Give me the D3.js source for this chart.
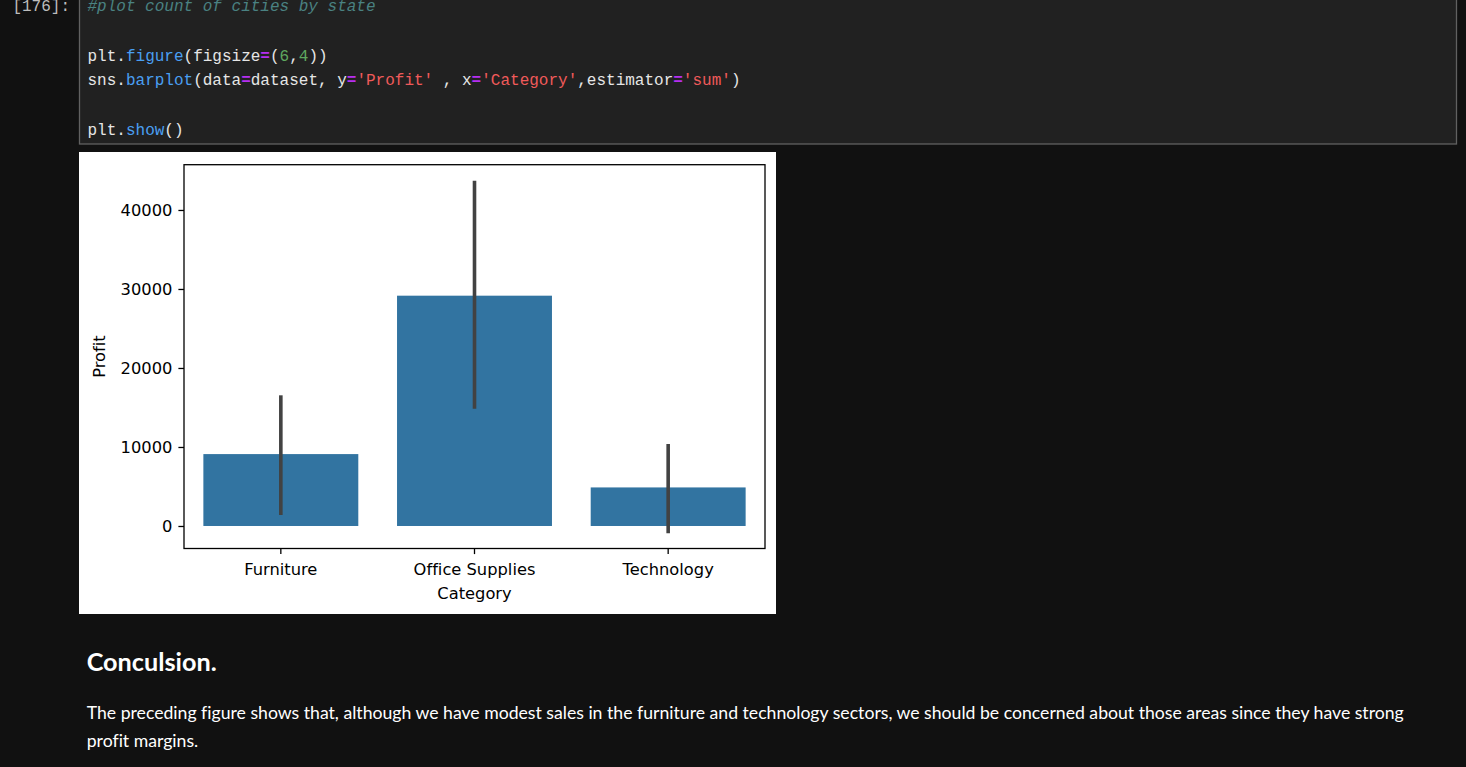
<!DOCTYPE html>
<html>
<head>
<meta charset="utf-8">
<script src="https://cdn.jsdelivr.net/npm/d3@7"></script>
<style>
  html, body { margin: 0; padding: 0; background: #111111; overflow: hidden; }
  svg { display: block; }
  text { font-variant-ligatures: none; }
</style>
</head>
<body>
<svg id="page" width="1466" height="767"></svg>
<script>
// ---------- data ----------
const categories = ["Furniture", "Office Supplies", "Technology"];
const profitSum  = [9100, 29150, 4880];
const ciLow      = [1390, 14850, -920];
const ciHigh     = [16540, 43700, 10380];
const yTicks     = [0, 10000, 20000, 30000, 40000];
const xLabel = "Category";
const yLabel = "Profit";

const promptText = "[176]:";
const codeLines = [
  [["#plot count of cities by state", "comment"]],
  [],
  [["plt", "plain"], [".", "plain"], ["figure", "func"], ["(", "plain"], ["figsize", "plain"], ["=", "op"], ["(", "plain"], ["6", "num"], [",", "plain"], ["4", "num"], ["))", "plain"]],
  [["sns", "plain"], [".", "plain"], ["barplot", "func"], ["(", "plain"], ["data", "plain"], ["=", "op"], ["dataset, y", "plain"], ["=", "op"], ["'Profit'", "str"], [" , x", "plain"], ["=", "op"], ["'Category'", "str"], [",estimator", "plain"], ["=", "op"], ["'sum'", "str"], [")", "plain"]],
  [],
  [["plt", "plain"], [".", "plain"], ["show", "func"], ["()", "plain"]]
];
const heading = "Conculsion.";
const paraLines = [
  "The preceding figure shows that, although we have modest sales in the furniture and technology sectors, we should be concerned about those areas since they have strong",
  "profit margins."
];

// ---------- page ----------
const svg = d3.select("#page");
svg.append("rect").attr("x", 0).attr("y", 0).attr("width", 1466).attr("height", 767).attr("fill", "#111111");

// code cell
svg.append("rect").attr("x", 79.5).attr("y", -10).attr("width", 1377).attr("height", 154)
  .attr("fill", "#212121").attr("stroke", "#616161").attr("stroke-width", 1.3);

svg.append("text").attr("x", 70).attr("y", 10.5).attr("text-anchor", "end")
  .attr("font-family", "Liberation Mono, DejaVu Sans Mono, monospace").attr("font-size", 16)
  .attr("fill", "#bdbdbd").text(promptText);

const codeColors = { plain: "#e6e6e6", func: "#4a9ff2", op: "#b62ef0", num: "#5fa85f", str: "#f05a5a", comment: "#4a8282" };
codeLines.forEach((line, i) => {
  if (!line.length) return;
  const t = svg.append("text").attr("x", 87.5).attr("y", 11 + i * 24.75)
    .attr("font-family", "Liberation Mono, DejaVu Sans Mono, monospace").attr("font-size", 16)
    .attr("xml:space", "preserve").style("white-space", "pre");
  line.forEach(([s, k]) => {
    const ts = t.append("tspan").attr("fill", codeColors[k]).text(s);
    if (k === "comment") ts.attr("font-style", "italic");
    if (k === "op") ts.attr("font-weight", "bold");
  });
});

// ---------- figure ----------
svg.append("rect").attr("x", 79).attr("y", 152).attr("width", 697).attr("height", 462).attr("fill", "#ffffff");

const ax = { x0: 184, x1: 765, y0: 164.7, y1: 548.5 };
const x = d3.scaleBand().domain(categories).range([ax.x0, ax.x1]).paddingInner(0.2).paddingOuter(0.1);
const y = d3.scaleLinear().domain([-2850, 45730]).range([ax.y1, ax.y0]);

const g = svg.append("g");
const rows = categories.map((c, i) => ({ c, v: profitSum[i], lo: ciLow[i], hi: ciHigh[i] }));

g.selectAll("rect.bar").data(rows).join("rect").attr("class", "bar")
  .attr("x", d => x(d.c)).attr("width", x.bandwidth())
  .attr("y", d => y(Math.max(0, d.v))).attr("height", d => Math.abs(y(d.v) - y(0)))
  .attr("fill", "#3274a1");

g.selectAll("line.err").data(rows).join("line").attr("class", "err")
  .attr("x1", d => x(d.c) + x.bandwidth() / 2).attr("x2", d => x(d.c) + x.bandwidth() / 2)
  .attr("y1", d => y(d.lo)).attr("y2", d => y(d.hi))
  .attr("stroke", "#424242").attr("stroke-width", 3.6);

// axes
const tickFont = "DejaVu Sans, sans-serif";
const yAxis = g.append("g").attr("transform", `translate(${ax.x0},0)`)
  .call(d3.axisLeft(y).tickValues(yTicks).tickSize(5.6).tickPadding(6).tickFormat(d3.format("d")));
const xAxis = g.append("g").attr("transform", `translate(0,${ax.y1})`)
  .call(d3.axisBottom(x).tickSize(5.6).tickPadding(8.5));
[yAxis, xAxis].forEach(a => {
  a.select(".domain").remove();
  a.selectAll(".tick line").attr("stroke", "#000").attr("stroke-width", 1.3);
  a.selectAll(".tick text").attr("font-family", tickFont).attr("font-size", 16.3).attr("fill", "#000");
});
xAxis.selectAll(".tick text").attr("dy", "0.78em");

// spines
g.append("rect").attr("x", ax.x0).attr("y", ax.y0).attr("width", ax.x1 - ax.x0).attr("height", ax.y1 - ax.y0)
  .attr("fill", "none").attr("stroke", "#000").attr("stroke-width", 1.3);

// axis labels
g.append("text").attr("x", (ax.x0 + ax.x1) / 2).attr("y", 598.5).attr("text-anchor", "middle")
  .attr("font-family", tickFont).attr("font-size", 16.3).attr("fill", "#000").text(xLabel);
g.append("text").attr("transform", `translate(105,${(ax.y0 + ax.y1) / 2}) rotate(-90)`)
  .attr("text-anchor", "middle").attr("font-family", tickFont).attr("font-size", 16.3).attr("fill", "#000").text(yLabel);

// ---------- markdown text ----------
function fitText(sel, target) {
  sel.attr("font-size", 100);
  const w = sel.node().getComputedTextLength();
  const fs = 100 * target / w;
  sel.attr("font-size", fs);
  return fs;
}
const h = svg.append("text").attr("x", 86.7).attr("y", 670.7)
  .attr("font-family", "Lato, Open Sans, sans-serif").attr("font-weight", "bold").attr("fill", "#ffffff").text(heading);
fitText(h, 130);

const p1 = svg.append("text").attr("x", 86.7).attr("y", 719)
  .attr("font-family", "Lato, Open Sans, sans-serif").attr("fill", "#ffffff").text(paraLines[0]);
const fs = fitText(p1, 1318.5);
svg.append("text").attr("x", 86.7).attr("y", 746.7)
  .attr("font-family", "Lato, Open Sans, sans-serif").attr("font-size", fs).attr("fill", "#ffffff").text(paraLines[1]);
</script>
</body>
</html>
